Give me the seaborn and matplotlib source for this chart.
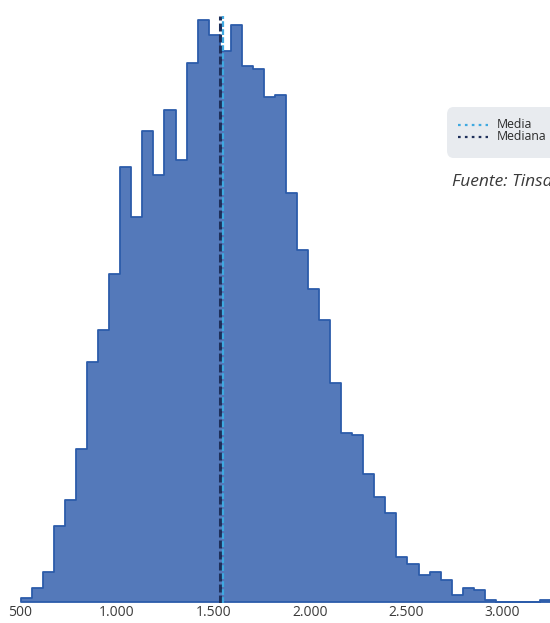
import numpy as np
import pandas as pd
import matplotlib
matplotlib.use("Agg")
import matplotlib.pyplot as plt
from matplotlib.lines import Line2D
from matplotlib.patches import FancyBboxPatch
from matplotlib.ticker import FuncFormatter
import seaborn as sns

# Price per m² distribution: equal-width bins between the lowest and highest value
bin_lo, bin_hi = 502, 3252
counts = [4, 14, 30, 76, 102, 153, 241, 273, 329, 436, 386, 472, 428, 493,
          443, 540, 583, 568, 552, 578, 537, 534, 506, 508, 410, 353, 314,
          283, 219, 169, 167, 128, 105, 89, 45, 38, 27, 30, 22, 7, 14, 12,
          2, 0, 0, 0, 0, 2]
mean_value = 1548
median_value = 1537
x_ticks = [500, 1000, 1500, 2000, 2500, 3000]
legend_labels = ["Media", "Mediana"]
source_text = "Fuente: Tinsa"

edges = np.linspace(bin_lo, bin_hi, len(counts) + 1)
df = pd.DataFrame({"precio": (edges[:-1] + edges[1:]) / 2, "n": counts})

sns.set_theme(style="white")
plt.rcParams["font.family"] = ["Open Sans", "DejaVu Sans"]

W, H = 550, 623
fig = plt.figure(figsize=(W / 100, H / 100), dpi=100)


def fx(px):
    return px / W


def fy(py):
    return 1 - py / H


# plot area: left 10 px, right edge of the canvas, baseline 602.5 px, top 16 px
ax = fig.add_axes([fx(10), fy(602.5), fx(540), (602.5 - 16) / H])

fill_c = "#5479BA"
edge_c = "#2C5CAA"
sns.histplot(data=df, x="precio", weights="n", bins=len(counts),
             binrange=(bin_lo, bin_hi), element="step",
             fill=True, color=fill_c, edgecolor=edge_c, alpha=1,
             linewidth=1.3, ax=ax)

mean_c = "#3FA9E0"
median_c = "#1E2F5A"
ax.axvline(median_value, color=median_c, lw=2.2, ls=(0, (2.6, 1.0)), zorder=3)
ax.axvline(mean_value, color=mean_c, lw=1.6, ls=(0, (2.6, 1.0)), zorder=3)

px_per_unit = (502.5 - 20.5) / 2500
ax.set_xlim(500 - 10.5 / px_per_unit, 500 + (550 - 20.5) / px_per_unit)
ax.set_ylim(0, 586.5)

ax.set_xticks(x_ticks)
ax.xaxis.set_major_formatter(FuncFormatter(lambda v, p: f"{int(v):,}".replace(",", ".")))
ax.tick_params(axis="x", length=0, pad=2, labelsize=10, labelcolor="#3a3a3a")
ax.set_yticks([])
ax.set_xlabel("")
ax.set_ylabel("")
for s in ax.spines.values():
    s.set_visible(False)

# legend panel, running past the right edge of the canvas
box = FancyBboxPatch((fx(447), fy(158)), fx(140), (158 - 107) / H,
                     boxstyle="round,pad=0,rounding_size=0.012",
                     transform=fig.transFigure, facecolor="#E8EBEF",
                     edgecolor="none", zorder=5)
fig.patches.append(box)
for label, color, py in zip(legend_labels, [mean_c, median_c], [124.5, 136.5]):
    fig.add_artist(Line2D([fx(458), fx(488)], [fy(py), fy(py)],
                          transform=fig.transFigure, color=color, lw=1.6,
                          ls=(0, (1.2, 1.9)), zorder=6))
    fig.text(fx(497), fy(py), label, fontsize=8.8, color="#2a2a2a",
             ha="left", va="center", zorder=6)

fig.text(fx(452), fy(186), source_text, style="italic", fontsize=12.5,
         color="#3a3a3a", ha="left", va="baseline")

fig.savefig("out.png", dpi=100)
